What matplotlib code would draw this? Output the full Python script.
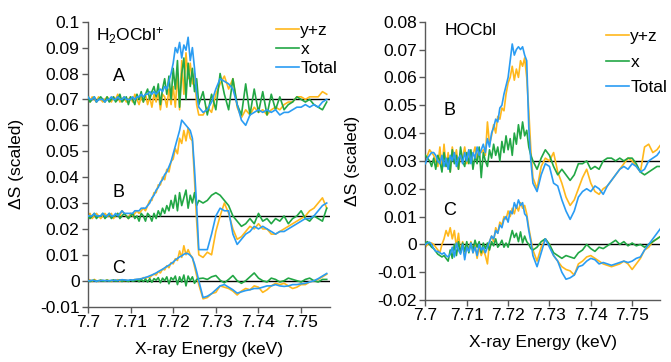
import numpy as np
import matplotlib
matplotlib.use("Agg")
import matplotlib.pyplot as plt
from matplotlib.ticker import FuncFormatter

plt.rcParams['font.family'] = ['Liberation Sans', 'DejaVu Sans']
plt.rcParams['mathtext.default'] = 'regular'

# energy grid (keV): fine steps through the edge, coarser after it
e_fine = [7.7000, 7.7005, 7.7010, 7.7015, 7.7020, 7.7025, 7.7030, 7.7035, 7.7040, 7.7045,
          7.7050, 7.7055, 7.7060, 7.7065, 7.7070, 7.7075, 7.7080, 7.7085, 7.7090, 7.7095,
          7.7100, 7.7105, 7.7110, 7.7115, 7.7120, 7.7125, 7.7130, 7.7135, 7.7140, 7.7145,
          7.7150, 7.7155, 7.7160, 7.7165, 7.7170, 7.7175, 7.7180, 7.7185, 7.7190, 7.7195,
          7.7200, 7.7205, 7.7210, 7.7215, 7.7220, 7.7225, 7.7230, 7.7235, 7.7240, 7.7245,
          7.7250, 7.7255, 7.7260]
e_post_left = [7.727, 7.728, 7.729, 7.730, 7.731, 7.732, 7.733, 7.734, 7.735, 7.736,
               7.737, 7.738, 7.739, 7.740, 7.741, 7.742, 7.743, 7.744, 7.745, 7.746,
               7.747, 7.748, 7.749, 7.750, 7.751, 7.752, 7.753, 7.754, 7.755, 7.756]
e_post_right = e_post_left + [7.757]

# ---- H2OCbl+ : values in 1e-3 relative to each trace's baseline ----
h_a_yz = [2, -1, 1, 0, -1, 1, 0, -1, 0, 1,
          0, -1, 1, 0, 2, -1, 0, 1, -1, 0,
          1, -1, 2, 0, -2, 1, -1, 2, -2, 1,
          -3, 2, -1, 3, -4, 2, 1, -3, 4, -2,
          5, -3, 10, -4, 15, 2, 18, 8, 14, 6,
          10, -2, -6,
          -6, -3, -5, 2, 6, 9, 4, 8, -3, -7,
          -4, -6, -3, -5, -4, -6, -4, -3, -4, -2,
          -1, -1, 1, 1, 0, 1, 1, 1, 3, 2]
h_a_x = [1, -1, 0, 1, -1, 0, 1, 0, -1, 1,
         -1, 0, 1, -1, 0, 2, -1, 0, 1, -2,
         1, 0, -2, 2, 0, 3, -1, 2, 4, 0,
         3, 5, 1, 6, -2, 4, 8, 2, 9, 0,
         12, 4, 15, -3, 10, 16, 0, 14, 5, 12,
         3, 8, -2,
         3, -6, 2, -4, 10, 2, -4, 8, -2, -6,
         6, -6, 4, -5, 3, -6, 2, -4, 1, -4,
         -2, -1, 1, 0, -1, 0, -2, -3, -4, -1]
h_a_tot = [1, 0, 0, 1, -1, 0, 0, 0, -1, 0,
           0, 1, 0, 0, 1, 0, 0, 1, 0, 0,
           0, 1, 0, 1, 1, 2, 1, 2, 2, 3,
           2, 3, 2, 3, 4, 3, 5, 4, 7, 10,
           14, 20, 18, 22, 16, 21, 19, 24, 15, 20,
           12, 2, -3,
           -5, -4, -1, 4, 8, 7, 6, 4, -2, -8,
           -10, -6, -5, -4, -5, -4, -5, -4, -6, -5,
           -5, -4, -3, -3, -2, -3, -2, -3, -1, 0]

h_b_yz = [0, 1, -1, 0, 1, 0, -1, 0, 1, 0,
          0, 1, -1, 0, 1, 0, 2, 1, 0, -1,
          1, 0, 1, 2, 1, 2, 3, 2, 4, 6,
          6, 9, 9, 12, 12, 15, 14, 18, 17, 21,
          22, 26, 24, 30, 28, 33, 29, 34, 30, 29,
          14, -2, -15,
          -16, -14, -15, -6, 0, 5, 1, -5, -9, -8,
          -6, -4, -5, -3, -5, -5, -7, -7, -6, -5,
          -4, -3, -2, -1, 0, 2, 3, 5, 7, 3]
h_b_x = [0, -1, 0, 1, -1, 0, 0, 1, -1, 0,
         1, -1, 0, 0, 1, -1, 0, 1, 0, -1,
         0, 1, -1, 0, -2, 1, 0, -2, 1, 0,
         -2, 1, -1, 2, 0, 3, 1, 4, 2, 6,
         3, 8, 2, 9, 4, 7, 10, 3, 8, 5,
         9, 4, 6,
         5, 6, 8, 9, 8, 6, 4, 0, -2, -4,
         -3, -1, -3, 1, -2, -1, -3, -1, -2, 0,
         -3, -1, 0, 2, -1, -2, 0, -1, -2, 3]
h_b_tot = [0, 0, 0, 1, 0, 0, 0, 1, 0, 0,
           1, 0, 0, 1, 0, 1, 2, 1, 1, 1,
           1, 1, 2, 2, 2, 3, 3, 3, 4, 5,
           7, 8, 10, 11, 13, 14, 16, 17, 19, 21,
           24, 27, 30, 33, 37, 36, 35, 34, 33, 30,
           18, 4, -13,
           -13, -13, -7, 0, 3, 2, 2, -7, -11, -9,
           -7, -6, -4, -5, -4, -5, -6, -7, -6, -6,
           -5, -4, -3, -2, -1, -1, 0, 2, 4, 5]

h_c_yz = [0.5, 0.3, -0.3, 0.5, 0, -0.3, 0.2, 0, -0.2, 0.3,
          0, -0.3, 0.2, 0, 0.4, -0.2, 0.3, 0, 0.2, -0.2,
          0.3, 0, 0.5, 0.3, 0.7, 0.4, 1.2, 0.8, 1.5, 1.2,
          2.0, 2.5, 2.2, 3.5, 3.0, 4.5, 4.2, 5.8, 5.0, 7.0,
          6.5, 8.5, 7.8, 11.5, 9.0, 13.5, 10.0, 12.0, 10.0, 9.0,
          5.5, 2.0, -1.5,
          -7.0, -6.5, -5.0, -4.5, -2.0, -2.5, -3.0, -4.0, -5.5, -4.0,
          -3.0, -3.5, -2.0, -2.5, -4.5, -3.5, -2.0, -1.0, -1.5, -1.0,
          -2.0, -3.0, -2.5, -1.5, -1.5, -0.5, 0, 0.5, 1.5, 2.5]
h_c_x = [0, -0.3, 0, 0.2, -0.3, 0, 0.2, -0.2, 0, 0.2,
         -0.2, 0, 0.3, -0.2, 0, 0.3, -0.3, 0.2, 0, -0.3,
         0.3, -0.2, 0, 0.4, -0.4, 0.5, -0.3, 0.6, -0.5, 0.8,
         -0.6, 0.8, 0.2, 1.2, -0.8, 1.0, 0, 1.5, -1.2, 1.2,
         0.3, 1.8, -1.5, 1.5, -0.5, 2.2, -2.0, 1.8, 0, 1.5,
         -1.0, 0.5, 0.8,
         1.0, 0.5, 1.5, 2.0, 0.2, -0.8, 0.5, 2.0, 0, -1.0,
         0, 1.5, 3.0, 1.0, 0, -0.5, 1.0, 0.5, -0.5, 0,
         1.0, 0.5, 0, -0.5, 0.5, 1.0, 0, -0.5, 0.5, 0.5]
h_c_tot = [0, 0, 0.2, 0, -0.2, 0, 0, 0.2, 0, 0,
           0, 0.2, 0, 0.3, 0, 0.2, 0.4, 0.3, 0.2, 0.2,
           0.3, 0.3, 0.4, 0.6, 0.6, 0.8, 1.0, 1.3, 1.5, 1.9,
           2.2, 2.6, 3.0, 3.5, 4.0, 4.4, 5.0, 5.5, 6.0, 6.6,
           7.2, 8.0, 8.6, 9.2, 9.6, 10.2, 10.6, 10.4, 9.8, 8.8,
           6.5, 3.5, 0.0,
           -6.5, -6.0, -5.0, -3.5, -2.0, -1.5, -2.5, -3.5, -4.8, -4.3,
           -3.8, -3.5, -3.0, -3.0, -2.5, -2.0, -2.0, -1.5, -2.0, -2.2,
           -2.0, -1.5, -1.5, -1.2, -1.0, -0.5, 0, 0.8, 1.8, 2.8]

# ---- HOCbl ----
o_b_yz = [-1, 2, 4, 3, 2, 0, -2, 5, -3, 6,
          -2, 3, -4, 5, 0, 4, -3, 2, 1, 5,
          -1, 4, 0, 2, 5, 1, 4, 3, 4, 2,
          14, 6, 9, 13, 10, 16, 15, 19, 18, 24,
          28, 30, 34, 29, 33, 30, 36, 34, 37, 30,
          18, 4, -6,
          -10, -2, 1, 0, 3, -4, -8, -13, -16, -14,
          -10, -6, -3, -8, -11, -12, -10, -9, -7, -5,
          -3, -1, 1, 0, -2, -4, 5, 6, 3, 4, 6]
o_b_x = [2, 1, 0, -2, 1, -3, 2, 0, -4, 3,
         -2, 1, -4, 4, -1, 2, -3, 5, 0, -2,
         3, -1, 4, -3, 2, -1, 5, -6, 3, 0,
         -2, 4, 1, 6, 2, 5, 0, 7, 3, 9,
         4, 8, 2, 10, 6, 13, 8, 14, 9, 11,
         5, 2, 0,
         -3, 1, 4, 2, -2, -5, -3, -5, -7, -5,
         -1, -1, 0, -3, -2, -3, 0, 1, 1, 0,
         1, 0, 1, 1, -1, -4, -5, -4, -3, -2, -2]
o_b_tot = [-1, 1, 2, 3, 3, 2, 0, -1, 2, -2,
           1, -3, 2, 0, 3, -2, 1, 2, -1, 3,
           0, 4, -1, 3, 1, 5, 2, 4, 6, 3,
           8, 5, 10, 12, 15, 14, 19, 20, 24, 27,
           30, 36, 42, 38, 40, 41, 40, 41, 38, 36,
           12, 0, -8,
           -11, -5, -1, -2, -8, -9, -14, -18, -21, -18,
           -13, -11, -10, -11, -9, -10, -12, -9, -7, -5,
           -3, -2, -3, -1, -2, -4, -3, 0, 1, 2, 4]

o_c_yz = [-1.0, 0, 0.5, 0.5, 0, -1, -2, -3, 0, 2,
          5.0, 3.0, 6.0, 2.0, 5.0, -1.0, 4.0, -3.0, 1.0, -4.0,
          0, -2, 1, -3, 0, -5, -1, -4, -2, -4,
          -7, 1, 3, 1, 6, 4, 8, 7, 10, 9,
          12, 10, 13, 11, 14, 12, 15, 13, 14, 11,
          6, 2, -2,
          -6, -1, 2, 0, -4, -6, -8, -9, -9.5, -11,
          -7, -6, -4.5, -4, -5, -6, -7, -7.5, -8, -7.5,
          -7, -6, -7, -9, -7, -5, -2, -1, 1, 2, 3]
o_c_x = [0.5, 1.0, 0, -1.0, -1.5, -2.5, -3.5, -4.0, -4.5, -4.0,
         -5.0, -6.0, -2.0, -5.0, 0, -4.0, 1.0, -3.0, 0.5, -2.5,
         1.0, -3.0, 0.5, -2.0, 1.5, -1.0, 1.0, -3.0, 0.5, -1.5,
         0.5, -2.0, 1.0, -0.5, 2.0, -1.0, 0, 1.5, -1.0, 0.5,
         -1.0, 2.0, 5.0, 2.5, 4.0, 1.0, 4.5, 0.5, 3.0, 1.0,
         0, -1.5, -2.0,
         -1, 1, 2, 0, -3, -4, -5, -4, -4.5, -5,
         -3, -2, 0, -1.5, -2.5, -1, -1.5, -0.5, 0.5, 1.5,
         0, 1, -0.5, 0.5, -0.5, 0, -1, 0, 1, 2, 3]
o_c_tot = [0, 0.5, 0.8, 0, -1.5, -2.5, -2.5, -3.0, -3.5, -3.0,
           -4.0, -4.5, -3.5, -1.0, -4.5, 0.5, -2.0, -3.5, 0, -5.5,
           -1.0, -2.5, 0.5, -3.0, -1.0, -4.0, 0, -2.0, -1.0, -3.0,
           -1.0, 1.0, 3.0, 2.0, 5.0, 4.0, 7.0, 6.0, 9.0, 10.0,
           8.0, 12.0, 11.0, 15.0, 13.0, 16.0, 14.0, 15.0, 11.0, 10.0,
           5.0, 1.0, -4.0,
           -8, -3, 2, -1, -4, -6, -10, -12.5, -12, -11,
           -8, -7.5, -6, -5, -5.5, -7, -6.5, -7, -7.5, -7,
           -6.5, -6, -6.5, -6, -5, -4.5, -2, 0, 2, 4, 6]

baselines_left = [0.07, 0.025, 0.0]
baselines_right = [0.03, 0.0]

c_yz = '#FFB81C'
c_x = '#22A745'
c_tot = '#2A9CF3'
FS = 12.5


def fmt(v, pos):
    return f'{round(v, 4):g}'


def style(ax, ymin, ymax, ystep, ylab_x, xlab_y):
    ax.set_xlim(7.7, 7.7568)
    ax.set_ylim(ymin, ymax)
    ax.set_xticks([7.70, 7.71, 7.72, 7.73, 7.74, 7.75])
    ax.set_yticks(np.arange(ymin, ymax + ystep / 2, ystep))
    ax.xaxis.set_major_formatter(FuncFormatter(fmt))
    ax.yaxis.set_major_formatter(FuncFormatter(fmt))
    for s in ['top', 'right']:
        ax.spines[s].set_visible(False)
    for s in ['left', 'bottom']:
        ax.spines[s].set_color('#595959')
        ax.spines[s].set_linewidth(1.0)
    ax.tick_params(direction='out', length=4, width=1.0, color='#595959',
                   labelsize=FS, pad=2)
    ax.set_xlabel('X-ray Energy (keV)', fontsize=FS)
    ax.set_ylabel('ΔS (scaled)', fontsize=FS)
    ax.xaxis.set_label_coords(0.5, xlab_y)
    ax.yaxis.set_label_coords(ylab_x, 0.5)


def draw(ax, energy, base, yz, x, tot):
    ax.axhline(base, color='black', lw=1.0, zorder=1)
    ax.plot(energy, base + np.array(yz) / 1000, color=c_yz, lw=1.2, label='y+z', zorder=2)
    ax.plot(energy, base + np.array(x) / 1000, color=c_x, lw=1.2, label='x', zorder=3)
    ax.plot(energy, base + np.array(tot) / 1000, color=c_tot, lw=1.2, label='Total', zorder=3)


fig = plt.figure(figsize=(6.71, 3.62), dpi=100)
ax1 = fig.add_axes([0.131, 0.153, 0.361, 0.787])
ax2 = fig.add_axes([0.634, 0.171, 0.350, 0.769])

e_left = e_fine + e_post_left
e_right = e_fine + e_post_right

draw(ax1, e_left, baselines_left[0], h_a_yz, h_a_x, h_a_tot)
draw(ax1, e_left, baselines_left[1], h_b_yz, h_b_x, h_b_tot)
draw(ax1, e_left, baselines_left[2], h_c_yz, h_c_x, h_c_tot)
style(ax1, -0.01, 0.1, 0.01, -0.265, -0.125)

draw(ax2, e_right, baselines_right[0], o_b_yz, o_b_x, o_b_tot)
draw(ax2, e_right, baselines_right[1], o_c_yz, o_c_x, o_c_tot)
style(ax2, -0.02, 0.08, 0.01, -0.28, -0.125)

ax1.text(7.7018, 0.0945, 'H$_2$OCbl$^{+}$', fontsize=FS, va='center')
ax1.text(7.7072, 0.0789, 'A', fontsize=13, ha='center', va='center')
ax1.text(7.7072, 0.0341, 'B', fontsize=13, ha='center', va='center')
ax1.text(7.7072, 0.0048, 'C', fontsize=13, ha='center', va='center')

ax2.text(7.7047, 0.0768, 'HOCbl', fontsize=FS, va='center')
ax2.text(7.7059, 0.0482, 'B', fontsize=13, ha='center', va='center')
ax2.text(7.7059, 0.0123, 'C', fontsize=13, ha='center', va='center')

h, l = ax1.get_legend_handles_labels()
ax1.legend(h[:3], l[:3], loc='upper left', bbox_to_anchor=(276 / 671, 1 - 23 / 362),
           bbox_transform=fig.transFigure, frameon=False, fontsize=FS,
           handlelength=1.3, handletextpad=0.1, labelspacing=0.22, borderpad=0, borderaxespad=0)
h, l = ax2.get_legend_handles_labels()
ax2.legend(h[:3], l[:3], loc='upper left', bbox_to_anchor=(606 / 671, 1 - 29 / 362),
           bbox_transform=fig.transFigure, frameon=False, fontsize=FS,
           handlelength=1.3, handletextpad=0.1, labelspacing=0.6, borderpad=0, borderaxespad=0)

fig.savefig('out.png', dpi=100)
